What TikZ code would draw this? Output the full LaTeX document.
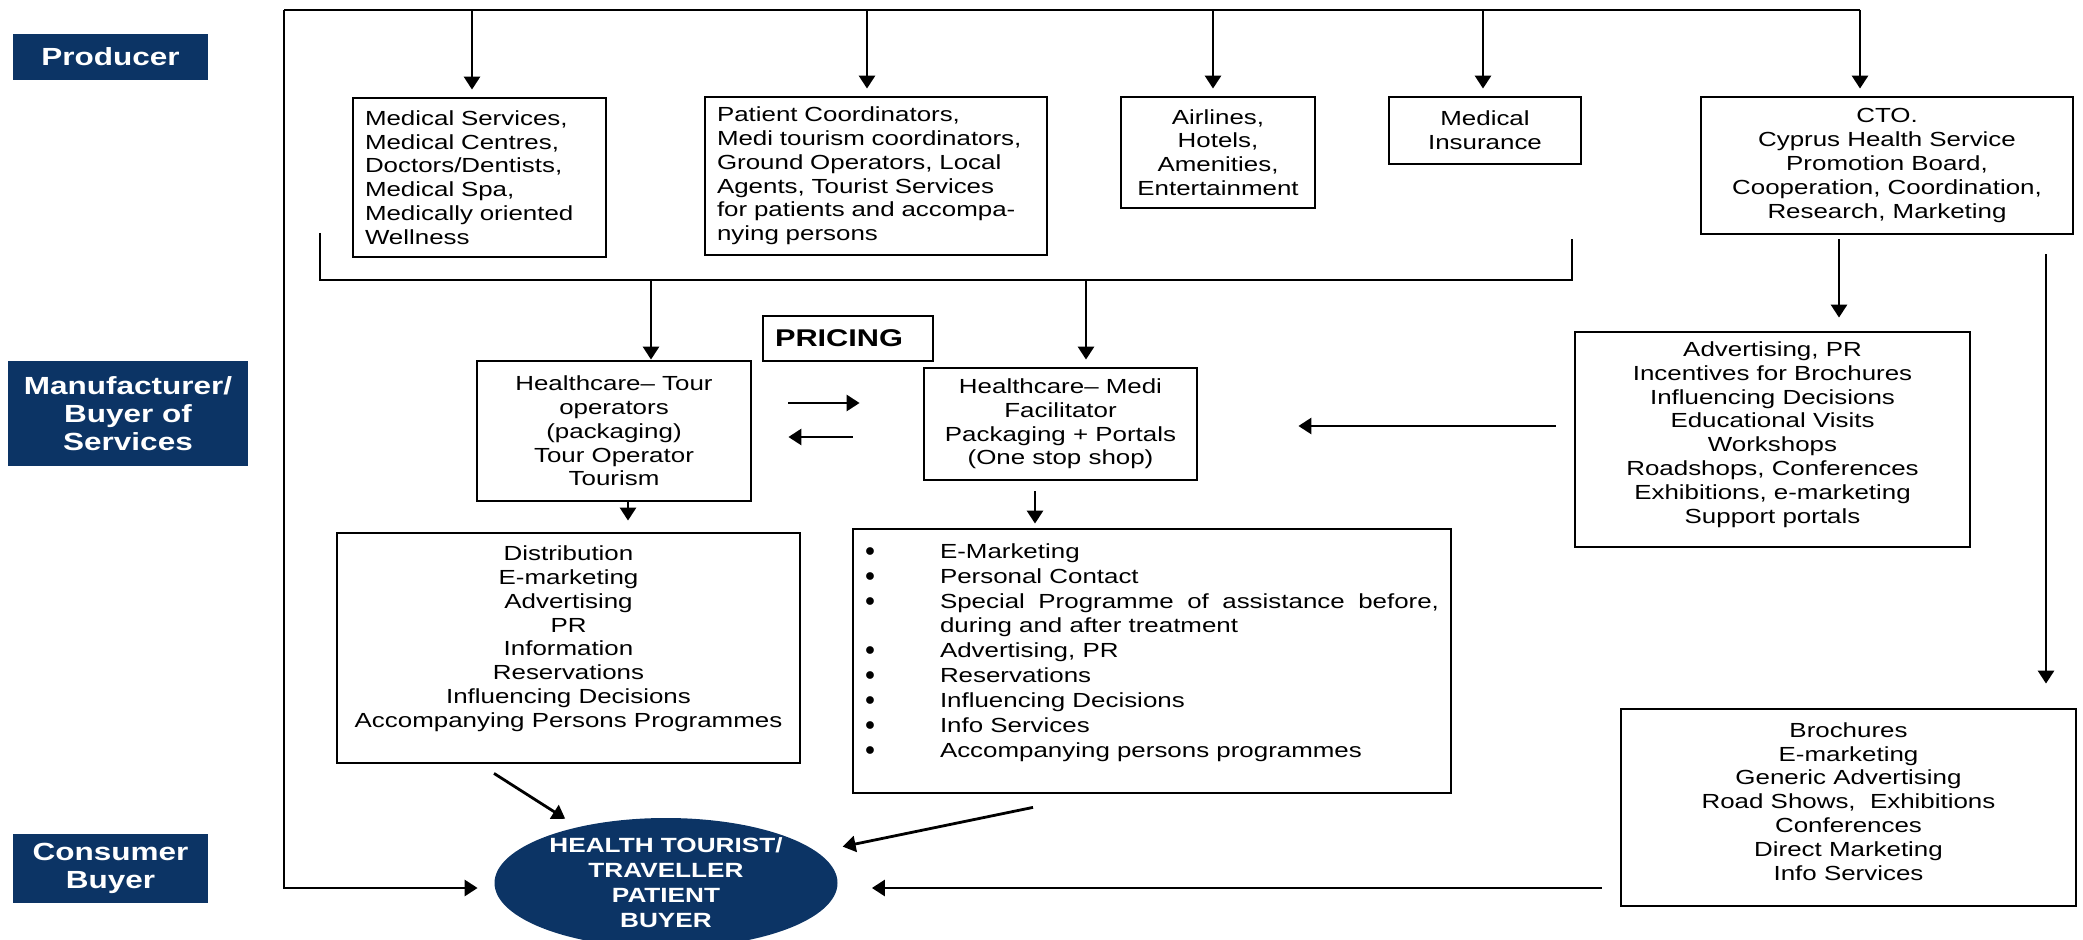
\documentclass[tikz,border=0pt]{standalone}
\usepackage{fontspec}
\setmainfont{Liberation Sans}[FakeStretch=1.27]
\usetikzlibrary{arrows.meta,shapes.geometric}
\definecolor{navy}{RGB}{12,52,101}
\def\sink#1{\rule[-#1]{0pt}{0pt}}
\def\blt{\raisebox{1pt}{$\bullet$}}
\tikzset{
	box/.style={draw, line width=1.4pt, inner xsep=6pt, inner ysep=3pt, align=center, font=\fontsize{10.2}{11.9}\selectfont},
	tag/.style={fill=navy, text=white, inner sep=0pt, align=center, font=\bfseries\fontsize{12.4}{14}\selectfont},
	wire/.style={line width=1.4pt},
	arr/.style={line width=1.4pt, -{Triangle[length=6.5pt,width=8pt]}}
}

\begin{document}
\begin{tikzpicture}[x=0.5pt, y=-0.5pt]
			%%%%% START %%%%%
			\useasboundingbox (0,0) rectangle (2083,940);
			
			\node[tag, minimum width=97.5pt, minimum height=23pt] (producer) at (110.5,57) {Producer};
			\node[tag, minimum width=120pt, minimum height=52.5pt] (manufacturer) at (128,413.5) {Manufacturer/\\Buyer of\\Services};
			\node[tag, minimum width=97.5pt, minimum height=34.5pt] (consumer) at (110.5,868.5) {Consumer\\Buyer};
			
			\node[box, align=left, text width=114.5pt, minimum height=79.5pt] (medical) at (479.5,177.5) {Medical Services,\\Medical Centres,\\Doctors/Dentists,\\Medical Spa,\\Medically oriented\\Wellness};
			\node[box, align=left, text width=159pt, minimum height=79pt] (coordinators) at (876,176) {Patient Coordinators,\\Medi tourism coordinators,\\Ground Operators, Local\\Agents, Tourist Services\\for patients and accompa-\\nying persons};
			\node[box, minimum width=97pt, minimum height=55.5pt] (airlines) at (1218,152.5) {Airlines,\\Hotels,\\Amenities,\\Entertainment};
			\node[box, minimum width=96pt, minimum height=33.5pt] (insurance) at (1485,130.5) {Medical\\Insurance};
			\node[box, minimum width=186pt, minimum height=68.5pt] (cto) at (1887,165.5) {CTO.\\Cyprus Health Service\\Promotion Board,\\Cooperation, Coordination,\\Research, Marketing};
			
			\node[box, align=left, text width=73pt, minimum height=22.5pt, font=\bfseries\fontsize{12.1}{14}\selectfont] (pricing) at (848,338.5) {PRICING};
			\node[box, minimum width=137pt, minimum height=70pt] (tour) at (614,431) {Healthcare– Tour\\operators\\(packaging)\\Tour Operator\\Tourism};
			\node[box, minimum width=136.5pt, minimum height=56pt] (medi) at (1060.5,424) {Healthcare– Medi\\Facilitator\\Packaging + Portals\\(One stop shop)};
			\node[box, minimum width=197.5pt, minimum height=107.5pt] (advertising) at (1772.5,439.5) {Advertising, PR\\Incentives for Brochures\\Influencing Decisions\\Educational Visits\\Workshops\\Roadshops, Conferences\\Exhibitions, e-marketing\\Support portals\sink{7pt}};
			
			\node[box, minimum width=231.5pt, minimum height=115pt] (distribution) at (568.5,648) {Distribution\\E-marketing\\Advertising\\PR\\Information\\Reservations\\Influencing Decisions\\Accompanying Persons Programmes\sink{11.3pt}};
			\node[box, align=left, minimum width=299pt, minimum height=132pt] (emarketing) at (1152,661) {\renewcommand{\arraystretch}{1.05}%
				\begin{tabular}{@{}p{37.5pt}@{}p{249.5pt}@{}}
					\blt & E-Marketing\\
					\blt & Personal Contact\\
					\blt & Special Programme of assistance before,\linebreak during and after treatment\\
					\blt & Advertising, PR\\
					\blt & Reservations\\
					\blt & Influencing Decisions\\
					\blt & Info Services\\
					\blt & Accompanying persons programmes\sink{11.75pt}
				\end{tabular}};
			\node[box, minimum width=227.5pt, minimum height=98.5pt] (brochures) at (1848.5,807.5) {Brochures\\E-marketing\\Generic Advertising\\Road Shows,~ Exhibitions\\Conferences\\Direct Marketing\\Info Services\sink{6.2pt}};
			
			\node[ellipse, fill=navy, text=white, inner sep=0pt, minimum width=171.5pt, minimum height=65pt, align=center, font=\bfseries\fontsize{10.3}{12.5}\selectfont] (tourist) at (666,883) {HEALTH TOURIST/\\TRAVELLER\\PATIENT\\BUYER};
			
			% producer bus
			\coordinate (topleft) at (284,10);
			\coordinate (topright) at (1860,10);
			\draw[wire] (topright) -- (topleft);
			\draw[arr, shorten >=8.25pt] (topleft) |- ([yshift=-2.5pt]tourist.west);
			\draw[arr, shorten >=3.5pt] ([xshift=-3.75pt]medical.north |- topleft) -- ([xshift=-3.75pt]medical.north);
			\draw[arr, shorten >=3.5pt] ([xshift=-4.5pt]coordinators.north |- topleft) -- ([xshift=-4.5pt]coordinators.north);
			\draw[arr, shorten >=3.5pt] ([xshift=-2.5pt]airlines.north |- topleft) -- ([xshift=-2.5pt]airlines.north);
			\draw[arr, shorten >=3.5pt] ([xshift=-1pt]insurance.north |- topleft) -- ([xshift=-1pt]insurance.north);
			\draw[arr, shorten >=3.5pt] (topright) -- (topright |- cto.north);
			
			% collecting bracket
			\coordinate (bracketleft) at (320,233);
			\coordinate (bracketright) at (1572,239);
			\coordinate (bracketbase) at (0,280);
			\draw[wire] (bracketleft) -- (bracketleft |- bracketbase) -- (bracketright |- bracketbase) -- (bracketright);
			\draw[arr] ([xshift=18.5pt]tour.north |- bracketbase) -- ([xshift=18.5pt]tour.north);
			\draw[arr, shorten >=3.5pt] ([xshift=12.75pt]medi.north |- bracketbase) -- ([xshift=12.75pt]medi.north);
			
			% pricing
			\draw[arr, shorten <=18pt, shorten >=31.5pt] ([yshift=14pt]tour.east) -- ([yshift=14pt]tour.east -| medi.west);
			\draw[arr, shorten <=35pt, shorten >=18pt] ([yshift=-3pt]tour.east -| medi.west) -- ([yshift=-3pt]tour.east);
			
			\draw[arr, shorten >=5.5pt] ([xshift=7pt]tour.south) -- ([xshift=7pt]tour.south |- distribution.north);
			\draw[arr, shorten <=5pt, shorten >=2pt] ([xshift=-12.75pt]medi.south) -- ([xshift=-12.75pt]medi.south |- emarketing.north);
			\draw[arr, shorten <=2pt, shorten >=6.5pt] ([xshift=-24pt]cto.south) -- ([xshift=-24pt]cto.south |- advertising.north);
			\draw[arr, shorten <=9pt, shorten >=50pt] ([yshift=6.75pt]advertising.west) -- ([yshift=6.75pt]advertising.west -| medi.east);
			\draw[arr, shorten <=9.5pt, shorten >=12pt] ([xshift=98.75pt]brochures.north |- cto.south) -- ([xshift=98.75pt]brochures.north);
			
			% to the consumer
			\draw[arr, shorten >=7.5pt] ([xshift=-37.25pt,yshift=-4.5pt]distribution.south) -- (tourist);
			\draw[arr, shorten >=13pt] ([xshift=-59.5pt,yshift=-6.5pt]emarketing.south) -- (tourist);
			\draw[arr, shorten <=9pt, shorten >=17pt] ([yshift=-2.5pt]tourist.east -| brochures.west) -- ([yshift=-2.5pt]tourist.east);
			
			%%%%% END %%%%%
\end{tikzpicture}
\end{document}
